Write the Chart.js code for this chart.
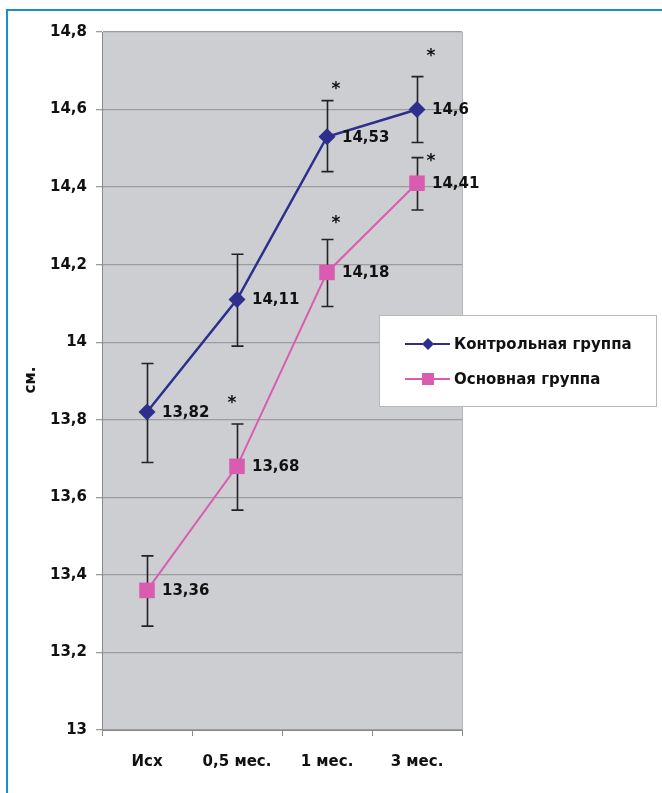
<!DOCTYPE html>
<html>
<head>
<meta charset="utf-8">
<script src="https://cdn.jsdelivr.net/npm/chart.js@4/dist/chart.umd.min.js"></script>
<style>
  html, body { margin: 0; padding: 0; background: #fff; overflow: hidden; }
  #wrap { position: relative; width: 662px; height: 793px; }
  #frame { position: absolute; left: 6px; top: 9px; width: 720px; height: 840px; border: 2px solid #1a8fd0; box-sizing: border-box; }
  canvas { position: absolute; left: 0; top: 0; }
</style>
</head>
<body>
<div id="wrap">
  <div id="frame"></div>
  <canvas id="grafica" width="662" height="793"></canvas>
</div>
<script>
const categorias = ["Исх", "0,5 мес.", "1 мес.", "3 мес."];

const control = [13.82, 14.11, 14.53, 14.6];
const controlMin = [13.69, 13.99, 14.44, 14.515];
const controlMax = [13.945, 14.227, 14.623, 14.685];
const controlStar = [null, null, 14.663, 14.746];

const principal = [13.36, 13.68, 14.18, 14.41];
const principalMin = [13.268, 13.567, 14.092, 14.341];
const principalMax = [13.449, 13.789, 14.265, 14.476];
const principalStar = [null, 13.851, 14.315, 14.475];

const ejeY = [13, 13.2, 13.4, 13.6, 13.8, 14, 14.2, 14.4, 14.6, 14.8];

const azul = "#2e2e8c";
const rosa = "#d95cb0";
const familia = "'DejaVu Sans', Verdana, sans-serif";
const fuente = "bold 15px " + familia;

function coma(v) {
  return String(Math.round(v * 100) / 100).replace(".", ",");
}

// fondo gris, barras de error, etiquetas, estrellas y leyenda
const extras = {
  id: "extras",
  beforeDraw(chart) {
    const a = chart.chartArea;
    const c = chart.ctx;
    c.save();
    c.fillStyle = "#cdced1";
    c.fillRect(a.left, a.top, a.right - a.left, a.bottom - a.top);
    c.strokeStyle = "#b4b5b8";
    c.lineWidth = 1;
    c.beginPath();
    c.moveTo(a.right + 0.5, a.top);
    c.lineTo(a.right + 0.5, a.bottom);
    c.stroke();
    c.restore();
  },
  beforeDatasetsDraw(chart) {
    const c = chart.ctx;
    const x = chart.scales.x, y = chart.scales.y;
    c.save();
    c.strokeStyle = "#222";
    c.lineWidth = 1.6;
    [[controlMin, controlMax], [principalMin, principalMax]].forEach(([lo, hi]) => {
      lo.forEach((v, i) => {
        const px = Math.round(x.getPixelForValue(i)) + 0.5;
        const y1 = y.getPixelForValue(lo[i]);
        const y2 = y.getPixelForValue(hi[i]);
        c.beginPath();
        c.moveTo(px, y1); c.lineTo(px, y2);
        c.moveTo(px - 6, y1); c.lineTo(px + 6, y1);
        c.moveTo(px - 6, y2); c.lineTo(px + 6, y2);
        c.stroke();
      });
    });
    c.restore();
  },
  afterDraw(chart) {
    const c = chart.ctx;
    const x = chart.scales.x, y = chart.scales.y;
    c.save();
    c.fillStyle = "#111";
    c.font = fuente;
    c.textBaseline = "middle";
    c.textAlign = "left";
    [control, principal].forEach(serie => {
      serie.forEach((v, i) => {
        c.fillText(coma(v), x.getPixelForValue(i) + 15, y.getPixelForValue(v) + 1);
      });
    });

    // estrellas
    const dx = [0, -5, 9, 14];
    c.textAlign = "center";
    c.font = "bold 17px " + familia;
    [controlStar, principalStar].forEach(s => {
      s.forEach((v, i) => {
        if (v === null) return;
        c.fillText("*", x.getPixelForValue(i) + dx[i], y.getPixelForValue(v) + 4);
      });
    });

    // título eje
    c.save();
    c.translate(31, 380);
    c.rotate(-Math.PI / 2);
    c.font = fuente;
    c.textAlign = "center";
    c.fillText("см.", 0, 0);
    c.restore();

    // leyenda
    c.fillStyle = "#fff";
    c.fillRect(379, 315, 278, 92);
    c.strokeStyle = "#b8b8b8";
    c.lineWidth = 1;
    c.strokeRect(379.5, 315.5, 277, 91);
    const items = [
      { t: "Контрольная группа", col: azul, yy: 344, forma: "rombo" },
      { t: "Основная группа", col: rosa, yy: 379, forma: "cuadro" }
    ];
    items.forEach(it => {
      c.strokeStyle = it.col;
      c.lineWidth = 2;
      c.beginPath();
      c.moveTo(405, it.yy); c.lineTo(450, it.yy);
      c.stroke();
      c.fillStyle = it.col;
      if (it.forma === "rombo") {
        c.beginPath();
        c.moveTo(428, it.yy - 6); c.lineTo(434, it.yy);
        c.lineTo(428, it.yy + 6); c.lineTo(422, it.yy);
        c.closePath(); c.fill();
      } else {
        c.fillRect(422, it.yy - 6, 12, 12);
      }
      c.fillStyle = "#111";
      c.textAlign = "left";
      c.font = fuente;
      c.fillText(it.t, 454, it.yy + 1);
    });
    c.restore();
  }
};

const ctx = document.getElementById("grafica").getContext("2d");
const chart = new Chart(ctx, {
  type: "line",
  data: {
    labels: categorias,
    datasets: [
      {
        label: "Контрольная группа",
        data: control,
        borderColor: azul,
        backgroundColor: azul,
        borderWidth: 2.5,
        pointStyle: "rectRot",
        pointRadius: 8.5,
        pointBorderWidth: 0,
        tension: 0
      },
      {
        label: "Основная группа",
        data: principal,
        borderColor: rosa,
        backgroundColor: rosa,
        borderWidth: 2,
        pointStyle: "rect",
        pointRadius: 11,
        pointBorderWidth: 0,
        tension: 0
      }
    ]
  },
  options: {
    responsive: false,
    animation: false,
    layout: { padding: { left: 0, right: 200, top: 32, bottom: 0 } },
    plugins: {
      legend: { display: false },
      tooltip: { enabled: false }
    },
    scales: {
      x: {
        offset: true,
        grid: { drawOnChartArea: false, drawTicks: true, tickLength: 6, offset: true, color: "#8a8a8a" },
        border: { color: "#8a8a8a", width: 1 },
        ticks: { color: "#111", font: { family: familia, size: 15, weight: "bold" }, padding: 17 },
        afterFit(s) { s.height = 63; }
      },
      y: {
        min: ejeY[0],
        max: ejeY[ejeY.length - 1],
        afterBuildTicks(s) { s.ticks = ejeY.map(v => ({ value: v })); },
        grid: { color: "#9c9c9e", lineWidth: 1.3, tickLength: 6, drawTicks: true },
        border: { color: "#8a8a8a", width: 1 },
        ticks: {
          color: "#111",
          font: { family: familia, size: 15, weight: "bold" },
          padding: 9,
          callback: v => coma(v)
        },
        afterFit(s) { s.width = 102; }
      }
    }
  },
  plugins: [extras]
});
</script>
</body>
</html>
